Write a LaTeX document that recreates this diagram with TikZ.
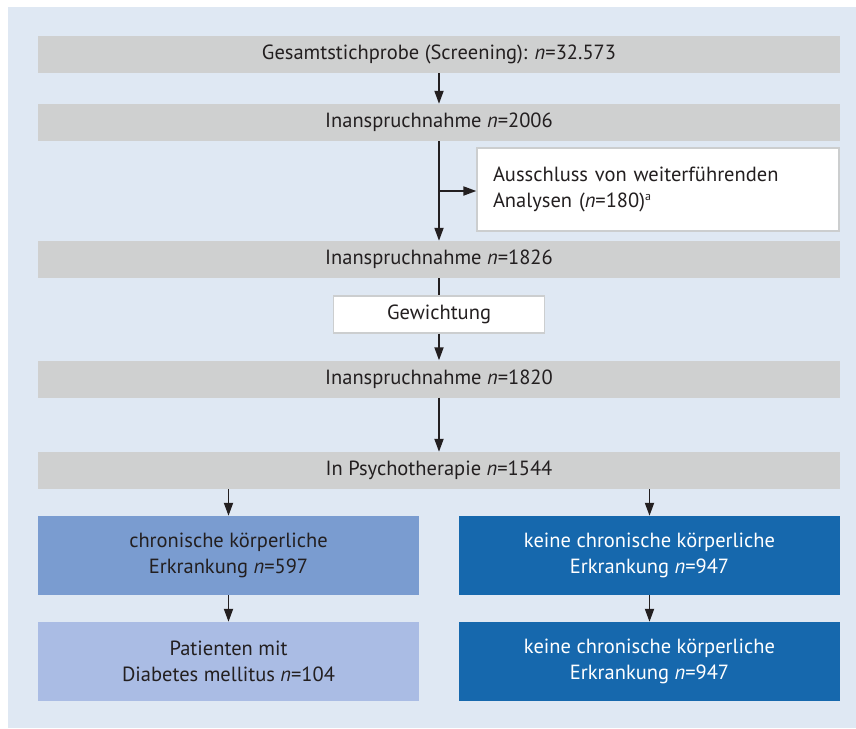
\documentclass[tikz,border=0pt]{standalone}
\usepackage{fontspec}
\setmainfont{PT Sans}
\usetikzlibrary{arrows.meta}
\definecolor{bgblue}{RGB}{223,232,243}
\definecolor{bargray}{RGB}{207,208,208}
\definecolor{boxline}{RGB}{204,206,207}
\definecolor{midblue}{RGB}{122,156,208}
\definecolor{lightblue}{RGB}{170,188,228}
\definecolor{darkblue}{RGB}{22,104,173}
\definecolor{txt}{RGB}{35,31,32}
\tikzset{
  fnt/.style={font=\fontsize{20.5}{26}\selectfont},
  bar/.style={fill=bargray, minimum width=802pt, minimum height=37pt, inner sep=0pt, text=txt, fnt},
  whitebox/.style={fill=white, draw=boxline, line width=1.3pt, inner sep=0pt, text=txt, fnt},
  colbox/.style={minimum width=381pt, minimum height=79pt, inner sep=0pt, align=center, fnt},
  arr/.style={line width=1.8pt, draw=txt, -{Triangle[length=13pt,width=9pt]}},
  ln/.style={line width=1.8pt, draw=txt}
}
\begin{document}
\begin{tikzpicture}[x=1pt,y=-1pt]
\useasboundingbox (0,0) rectangle (856,728);
\fill[bgblue] (8,7) rectangle (856,728);
\node[bar] (b1) at (439,54.5) {Gesamtstichprobe (Screening): \textit{n}=32.573};
\node[bar] (b2) at (439,122.5) {Inanspruchnahme \textit{n}=2006};
\node[bar] (b3) at (439,259.5) {Inanspruchnahme \textit{n}=1826};
\node[bar] (b4) at (439,379) {Inanspruchnahme \textit{n}=1820};
\node[bar] (b5) at (439,470.5) {In Psychotherapie \textit{n}=1544};
\node[whitebox, minimum width=362pt, minimum height=83pt, text width=330pt, align=left] (aus) at (658,189.5) {Ausschluss von weiterführenden\\Analysen (\textit{n}=180)\raisebox{7pt}{\fontsize{12}{12}\selectfont a}};
\node[whitebox, minimum width=211pt, minimum height=37pt] (gew) at (439,314.5) {Gewichtung};
\node[colbox, fill=midblue, text=txt] (l1) at (228.5,555.5) {chronische körperliche\\Erkrankung \textit{n}=597};
\node[colbox, fill=lightblue, text=txt] (l2) at (228.5,661.5) {Patienten mit\\Diabetes mellitus \textit{n}=104};
\node[colbox, fill=darkblue, text=white] (r1) at (649.5,555.5) {keine chronische körperliche\\Erkrankung \textit{n}=947};
\node[colbox, fill=darkblue, text=white] (r2) at (649.5,661.5) {keine chronische körperliche\\Erkrankung \textit{n}=947};
\coordinate (br) at (439,191);
\draw[arr] (b1.south) -- (b2.north);
\draw[arr] (b2.south) -- (b3.north);
\draw[arr] (br) -- (br -| aus.west);
\draw[ln] (b3.south) -- (gew.north);
\draw[arr] (gew.south) -- (b4.north);
\draw[arr] (b4.south) -- (b5.north);
\draw[arr] (b5.south -| l1.north) -- (l1.north);
\draw[arr] (b5.south -| r1.north) -- (r1.north);
\draw[arr] (l1.south) -- (l2.north);
\draw[arr] (r1.south) -- (r2.north);
\end{tikzpicture}
\end{document}
